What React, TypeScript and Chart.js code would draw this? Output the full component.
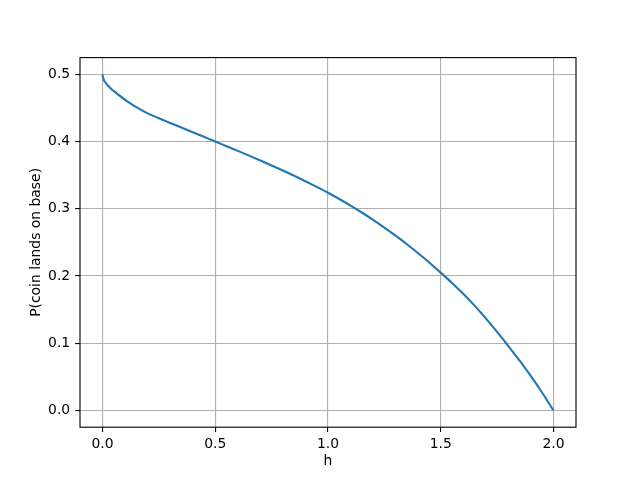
import React, { useEffect, useRef } from "react";
import { Chart, registerables } from "chart.js";

Chart.register(...registerables);

const hValues = [0, 0.001, 0.0035, 0.008, 0.015, 0.025, 0.04, 0.06, 0.08, 0.1, 0.125, 0.15, 0.175, 0.2, 0.25, 0.3, 0.35, 0.4, 0.45, 0.5, 0.55, 0.6, 0.65, 0.7, 0.75, 0.8, 0.85, 0.9, 0.95, 1.0, 1.05, 1.1, 1.15, 1.2, 1.25, 1.3, 1.35, 1.4, 1.45, 1.5, 1.55, 1.6, 1.65, 1.7, 1.75, 1.8, 1.85, 1.9, 1.95, 2.0];
const pValues = [0.5, 0.497, 0.494, 0.49, 0.487, 0.483, 0.478, 0.4725, 0.4672, 0.4622, 0.4565, 0.4512, 0.4464, 0.442, 0.4348, 0.4278, 0.4209, 0.414, 0.4071, 0.4002, 0.3932, 0.3862, 0.3791, 0.3719, 0.3645, 0.3569, 0.3491, 0.341, 0.3326, 0.3239, 0.3146, 0.3048, 0.2945, 0.2836, 0.2721, 0.26, 0.2473, 0.2339, 0.2198, 0.2049, 0.1897, 0.1735, 0.1559, 0.137, 0.1169, 0.0958, 0.0739, 0.0509, 0.0263, 0.0];
const xTicks = [0, 0.5, 1.0, 1.5, 2.0];
const yTicks = [0, 0.1, 0.2, 0.3, 0.4, 0.5];
const xLabel = "h";
const yLabel = "P(coin lands on base)";

const FONT = "'DejaVu Sans', sans-serif";

export default function App() {
  const ref = useRef<HTMLCanvasElement | null>(null);
  useEffect(() => {
    if (!ref.current) return;
    const spines = {
      id: "spines",
      afterDraw(chart: any) {
        const { ctx, chartArea } = chart;
        ctx.save();
        ctx.strokeStyle = "#000000";
        ctx.lineWidth = 1.1;
        ctx.strokeRect(chartArea.left, chartArea.top, chartArea.right - chartArea.left, chartArea.bottom - chartArea.top);
        ctx.restore();
      },
    };
    const gridOpts = { color: "#b0b0b0", lineWidth: 1.1, tickColor: "#000000", tickWidth: 1.1, tickLength: 4.9 };
    const chart = new Chart(ref.current, {
      type: "scatter",
      data: {
        datasets: [
          {
            data: hValues.map((h, i) => ({ x: h, y: pValues[i] })),
            showLine: true,
            borderColor: "#1f77b4",
            borderWidth: 2.1,
            pointRadius: 0,
            cubicInterpolationMode: "monotone",
          },
        ],
      },
      plugins: [spines],
      options: {
        animation: false,
        responsive: false,
        devicePixelRatio: 1,
        layout: { padding: { top: 57.6, right: 64, left: 0, bottom: 0 } },
        plugins: { legend: { display: false }, tooltip: { enabled: false } },
        scales: {
          x: {
            type: "linear",
            min: -0.1,
            max: 2.1,
            afterBuildTicks: (s: any) => {
              s.ticks = xTicks.map((v) => ({ value: v }));
            },
            afterFit: (s: any) => {
              s.height = 52.8;
            },
            grid: gridOpts,
            border: { display: false },
            ticks: {
              color: "#000000",
              font: { family: FONT, size: 13.9 },
              padding: 3.5,
              maxRotation: 0,
              callback: (v: any) => Number(v).toFixed(1),
            },
            title: { display: true, text: xLabel, color: "#000000", font: { family: FONT, size: 13.9 }, padding: { top: 0, bottom: 10 } },
          },
          y: {
            type: "linear",
            min: -0.025,
            max: 0.525,
            afterBuildTicks: (s: any) => {
              s.ticks = yTicks.map((v) => ({ value: v }));
            },
            afterFit: (s: any) => {
              s.width = 80;
            },
            grid: gridOpts,
            border: { display: false },
            ticks: {
              color: "#000000",
              font: { family: FONT, size: 13.9 },
              padding: 4.9,
              callback: (v: any) => Number(v).toFixed(1),
            },
            title: { display: true, text: yLabel, color: "#000000", font: { family: FONT, size: 13.9 }, padding: { top: 28, bottom: 0 } },
          },
        },
      },
    } as any);
    return () => chart.destroy();
  }, []);
  return (
    <div style={{ position: "absolute", left: 0, top: 0, width: 640, height: 480, background: "#ffffff" }}>
      <canvas ref={ref} width={640} height={480} />
    </div>
  );
}
